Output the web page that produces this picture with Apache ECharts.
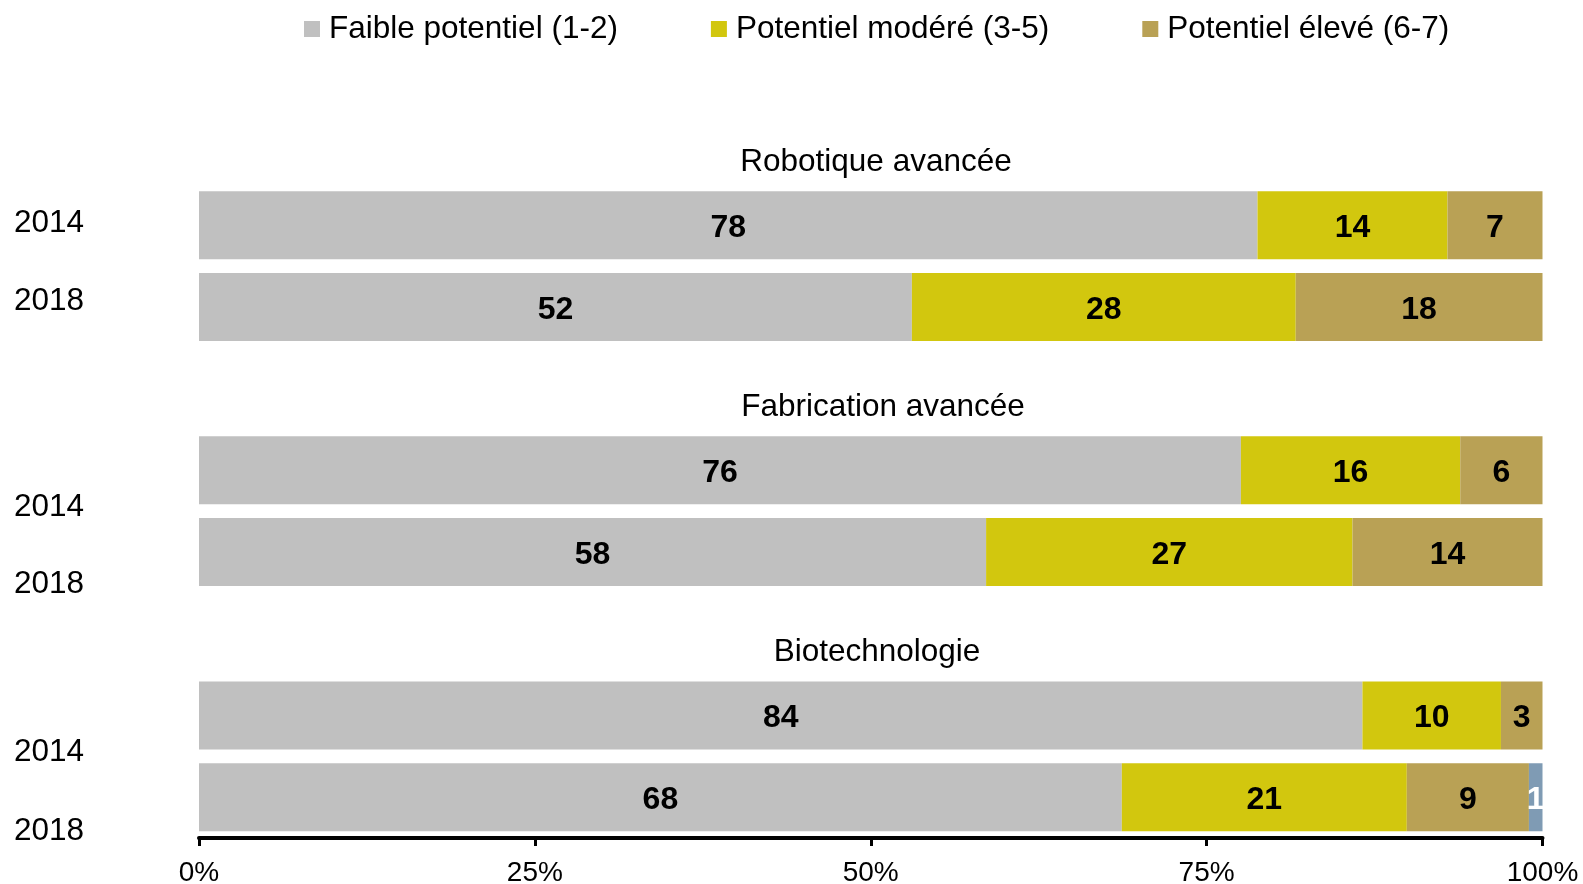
<!DOCTYPE html>
<html lang="fr">
<head>
    <meta charset="UTF-8">
    <script src="https://cdn.jsdelivr.net/npm/echarts@6/dist/echarts.min.js"></script>
    <title>Potentiel</title>
    <style>
        html, body { margin: 0; padding: 0; background: #fff; }
        #myChart { width: 1583px; height: 884px; }
    </style>
</head>
<body>
    <div id="myChart"></div>
    <script>
        // data (raw scores, bars are drawn as share of the row total)
        var groups = ['Robotique avancée', 'Fabrication avancée', 'Biotechnologie'];
        var years = ['2014', '2018'];
        var faible = [78, 52, 76, 58, 84, 68];
        var modere = [14, 28, 16, 27, 10, 21];
        var eleve = [7, 18, 6, 14, 3, 9];
        var autre = [0, 0, 0, 0, 0, 1];
        var seriesNames = ['Faible potentiel (1-2)', 'Potentiel modéré (3-5)', 'Potentiel élevé (6-7)', 'Autre'];
        var xTicks = [0, 25, 50, 75, 100];

        var FONT = '"Liberation Sans", Arial, Helvetica, sans-serif';
        var colors = ['#c0c0c0', '#d2c70e', '#b9a155', '#7f9bb4'];
        // vertical nudges of the year labels, as in the original
        var yearPad = [[0, 0, 3, 0], [0, 0, 12, 0], [75, 0, 0, 0], [64, 0, 0, 0], [74, 0, 0, 0], [68, 0, 0, 0]];

        // rows: title slot + one per year, per group
        var cats = [];
        var rowOf = {};   // category index -> data row
        groups.forEach(function (g, gi) {
            cats.push(g);
            years.forEach(function (y, yi) {
                rowOf[cats.length] = gi * years.length + yi;
                cats.push(g + '|' + y);
            });
        });

        var raw = [faible, modere, eleve, autre];
        var totals = faible.map(function (v, i) { return v + modere[i] + eleve[i] + autre[i]; });

        function buildData(arr) {
            return cats.map(function (c, ci) {
                var r = rowOf[ci];
                if (r === undefined) return '-';
                return arr[r] / totals[r] * 100;
            });
        }

        var rich = {};
        yearPad.forEach(function (p, i) {
            rich['y' + i] = { padding: p, fontSize: 31.5, fontFamily: FONT, color: '#000' };
        });

        var series = raw.map(function (arr, si) {
            return {
                name: seriesNames[si],
                type: 'bar',
                stack: 'total',
                barWidth: 68,
                data: buildData(arr),
                itemStyle: { color: colors[si] },
                label: {
                    show: true,
                    position: 'inside',
                    offset: [0, 3],
                    fontFamily: FONT,
                    fontSize: 32,
                    fontWeight: 'bold',
                    color: si === 3 ? '#fff' : '#000',
                    formatter: function (p) {
                        var r = rowOf[p.dataIndex];
                        if (r === undefined || !arr[r]) return '';
                        return arr[r];
                    }
                },
                emphasis: { disabled: true },
                animation: false
            };
        });

        var dom = document.getElementById('myChart');
        var myChart = echarts.init(dom);
        var option = {
            backgroundColor: '#fff',
            animation: false,
            legend: {
                data: seriesNames.slice(0, 3),
                left: 304,
                top: 13,
                padding: 0,
                itemWidth: 16,
                itemHeight: 16,
                itemGap: 93,
                icon: 'rect',
                selectedMode: false,
                textStyle: { fontFamily: FONT, fontSize: 31.5, color: '#000', padding: [0, 0, 0, 4] }
            },
            grid: {
                left: 199, right: 40.5, top: 102.6, bottom: 46,
                containLabel: false,
                outerBoundsMode: 'none'
            },
            xAxis: {
                type: 'value',
                min: 0,
                max: 100,
                interval: 25,
                splitLine: { show: false },
                axisLine: { show: true, lineStyle: { color: '#000', width: 4 } },
                axisTick: { show: true, length: 8, lineStyle: { color: '#000', width: 3 } },
                axisLabel: {
                    fontFamily: FONT, fontSize: 28, color: '#000', margin: 21,
                    formatter: function (v) { return xTicks.indexOf(v) >= 0 ? v + '%' : ''; }
                }
            },
            yAxis: {
                type: 'category',
                inverse: true,
                data: cats,
                axisLine: { show: false },
                axisTick: { show: false },
                axisLabel: {
                    interval: 0,
                    align: 'left',
                    margin: 185,
                    fontFamily: FONT,
                    fontSize: 31.5,
                    color: '#000',
                    rich: rich,
                    formatter: function (v, i) {
                        var r = rowOf[i];
                        if (r === undefined) return '';
                        return '{y' + r + '|' + v.split('|')[1] + '}';
                    }
                }
            },
            series: series
        };
        myChart.setOption(option);

        // group titles above each pair of bars
        var titleX = [876, 883, 877];
        var graphics = groups.map(function (g, gi) {
            var y = myChart.convertToPixel({ yAxisIndex: 0 }, g) + 19;
            return {
                type: 'text',
                x: titleX[gi],
                y: y,
                style: {
                    text: g,
                    font: '31.5px ' + FONT,
                    fill: '#000',
                    textAlign: 'center',
                    textVerticalAlign: 'middle'
                }
            };
        });
        myChart.setOption({ graphic: graphics });
    </script>
</body>
</html>
